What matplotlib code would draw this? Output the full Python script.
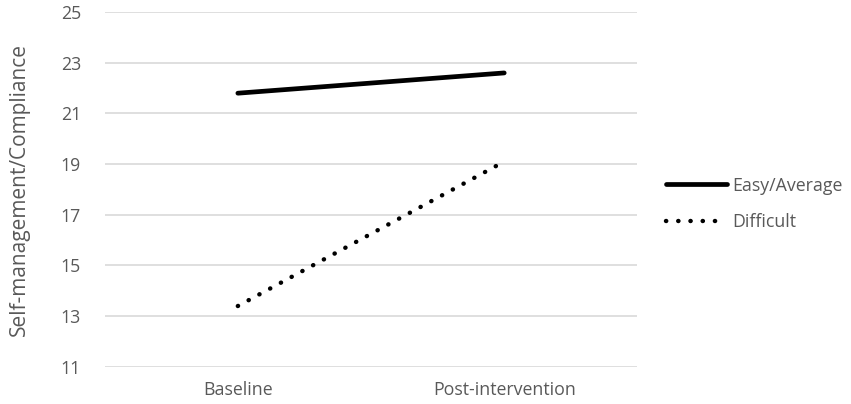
import matplotlib.pyplot as plt

# ============================================================
# DATA
# ============================================================

categories = ["Baseline", "Post-intervention"]

easy_average = [21.8, 22.6]
difficult = [13.4, 19.1]

y_ticks = [11, 13, 15, 17, 19, 21, 23, 25]

# ============================================================
# PLOT
# ============================================================

plt.rcParams["font.family"] = ["Open Sans", "DejaVu Sans"]

text_color = "#595959"

fig = plt.figure(figsize=(8.51, 4.04), dpi=100)
ax = fig.add_axes([0.123, 0.092, 0.626, 0.878])

x = range(len(categories))

ax.plot(
    x,
    easy_average,
    color="black",
    linewidth=3.4,
    solid_capstyle="round",
    label="Easy/Average"
)

ax.plot(
    x,
    difficult,
    color="black",
    linewidth=3.2,
    linestyle=(0, (0.05, 2.7)),
    dash_capstyle="round",
    label="Difficult"
)

ax.set_xlim(-0.5, 1.5)
ax.set_ylim(11, 25)
ax.set_xticks(list(x))
ax.set_xticklabels(categories)
ax.set_yticks(y_ticks)

ax.grid(axis="y", color="#d9d9d9", linewidth=1.2)
ax.set_axisbelow(True)

for spine in ax.spines.values():
    spine.set_visible(False)

ax.tick_params(
    axis="both",
    length=0,
    labelsize=12.8,
    labelcolor=text_color
)
ax.tick_params(axis="y", pad=17)
ax.tick_params(axis="x", pad=10)

ax.set_ylabel(
    "Self-management/Compliance",
    fontsize=15,
    color=text_color,
    labelpad=22
)

ax.legend(
    loc="center left",
    bbox_to_anchor=(0.783, 0.495),
    bbox_transform=fig.transFigure,
    borderaxespad=0,
    borderpad=0,
    frameon=False,
    fontsize=12.8,
    labelcolor=text_color,
    handlelength=3.4,
    handletextpad=0.3,
    labelspacing=1.05
)

fig.savefig("out.png", dpi=100)
